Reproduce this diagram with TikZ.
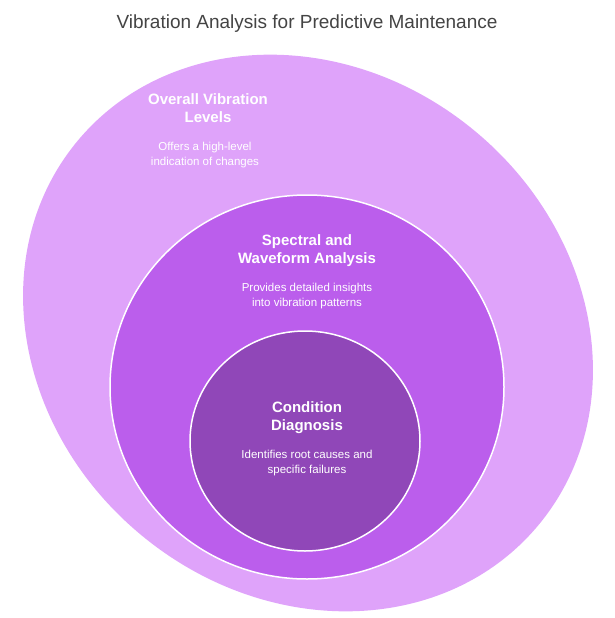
\documentclass[tikz,border=0pt]{standalone}
\usepackage{fontspec}
\setmainfont{Liberation Sans}
\usetikzlibrary{positioning}
\definecolor{outerc}{HTML}{DFA3FA}
\definecolor{midc}{HTML}{BB5EEC}
\definecolor{innc}{HTML}{9047B8}
\definecolor{titc}{HTML}{444444}
\tikzset{
 head/.style={text=white,font=\bfseries\fontsize{15}{18}\selectfont,align=center},
 sub/.style={text=white,font=\fontsize{11.5}{15}\selectfont,align=center},
 blob/.style={draw=white,line width=1.5pt}
}
\begin{document}
\begin{tikzpicture}[x=1pt,y=-1pt]
\useasboundingbox (0,0) rectangle (615,618);
\node[text=titc,font=\fontsize{19}{22}\selectfont] (title) at (307,24) {Vibration Analysis for Predictive Maintenance};
\fill[outerc,rotate around={-40:(308,333)}] (308,333) ellipse[x radius=300,y radius=262];
\draw[blob,fill=midc] (307,387) ellipse[x radius=197,y radius=192];
\draw[blob,fill=innc] (305,441) ellipse[x radius=115,y radius=110];
\node[head] (h1) at (208,108) {Overall Vibration\\Levels};
\node[sub] (s1) at (205,155) {Offers a high-level\\indication of changes};
\node[head] (h2) at (307,251) {Spectral and\\Waveform Analysis};
\node[sub] (s2) at (307,296) {Provides detailed insights\\into vibration patterns};
\node[head] (h3) at (307,418) {Condition\\Diagnosis};
\node[sub] (s3) at (307,463) {Identifies root causes and\\specific failures};
\end{tikzpicture}
\end{document}
